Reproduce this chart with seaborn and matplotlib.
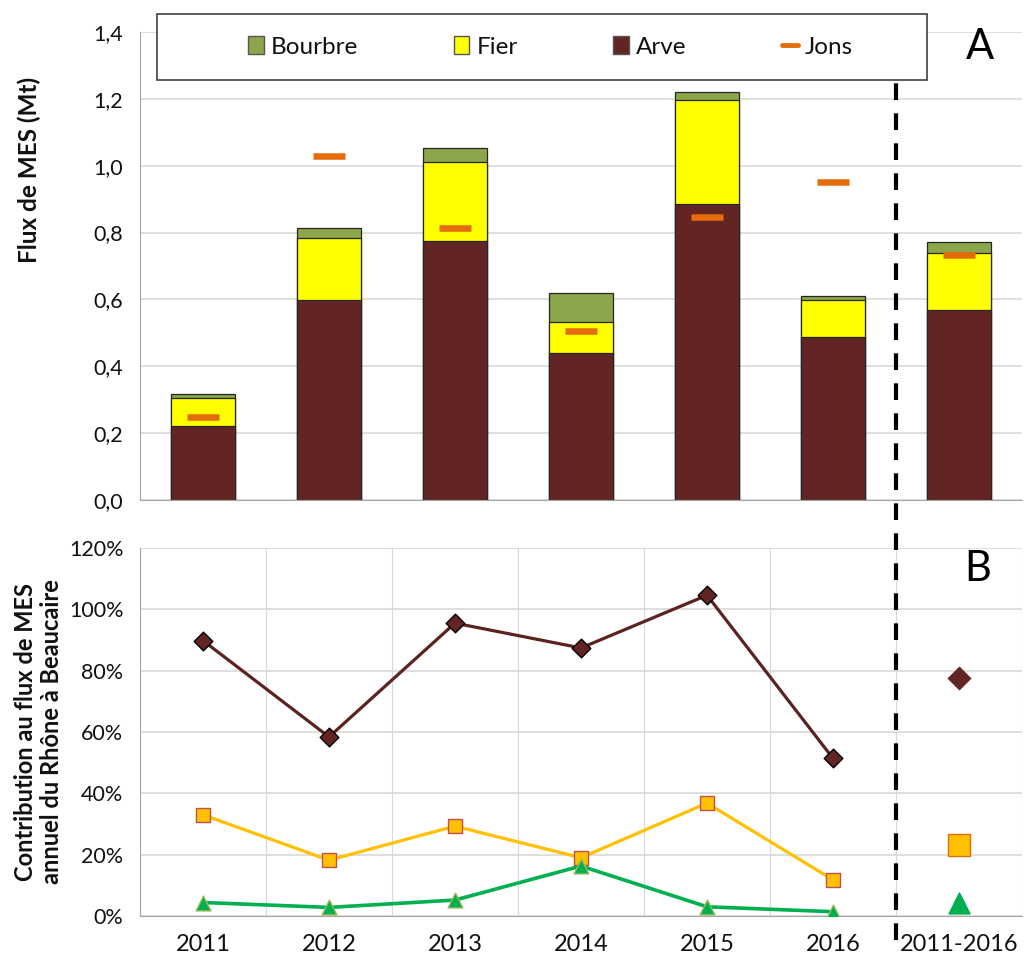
import numpy as np
import matplotlib
matplotlib.use("Agg")
import matplotlib.pyplot as plt
from matplotlib.lines import Line2D
from matplotlib.patches import Patch, Rectangle
from matplotlib.ticker import FuncFormatter
import seaborn as sns

# Data
categories = ["2011", "2012", "2013", "2014", "2015", "2016", "2011-2016"]
arve = [0.222, 0.597, 0.775, 0.441, 0.886, 0.487, 0.567]
fier = [0.082, 0.188, 0.235, 0.092, 0.310, 0.111, 0.171]
bourbre = [0.012, 0.030, 0.042, 0.085, 0.026, 0.012, 0.033]
jons = [0.248, 1.029, 0.814, 0.506, 0.846, 0.950, 0.732]

# Contribution to annual flux at Beaucaire (%)
arve_pct = [89.8, 58.4, 95.5, 87.4, 104.6, 51.4, 77.6]
fier_pct = [33.0, 18.2, 29.3, 19.0, 36.8, 11.8, 23.3]
bourbre_pct = [4.4, 2.8, 5.2, 16.3, 3.0, 1.4, 4.4]

c_arve = "#632523"
c_fier = "#FFFF00"
c_bourbre = "#8BA64B"
c_jons = "#E46C0A"
grid_c = "#D9D9D9"
spine_c = "#A6A6A6"
text_c = "#111111"

sns.set_style("white")
plt.rcParams["font.family"] = ["Lato", "DejaVu Sans"]

W, H = 1025, 963
fig = plt.figure(figsize=(W / 100, H / 100), dpi=100)
ax_top = fig.add_axes([140 / W, 1 - 500 / H, 882 / W, 468 / H])
ax_bot = fig.add_axes([140 / W, 1 - 916 / H, 882 / W, 368 / H])

# ---- Panel A: stacked bars ----
arve_a = np.array(arve)
fier_top = arve_a + np.array(fier)
total = fier_top + np.array(bourbre)
bar_kw = dict(width=0.51, saturation=1, edgecolor="#262626", linewidth=0.9, ax=ax_top)
sns.barplot(x=categories, y=total, color=c_bourbre, **bar_kw)
sns.barplot(x=categories, y=fier_top, color=c_fier, **bar_kw)
sns.barplot(x=categories, y=arve_a, color=c_arve, **bar_kw)
sns.scatterplot(x=categories, y=jons, marker="_", s=560, linewidth=4.7,
                color=c_jons, edgecolor=c_jons, ax=ax_top, zorder=5)

ax_top.set_xlim(-0.5, len(categories) - 0.5)
ax_top.set_ylim(0, 1.4)
ax_top.set_yticks(np.arange(0, 1.41, 0.2))
ax_top.yaxis.set_major_formatter(FuncFormatter(lambda v, p: f"{v:.1f}".replace(".", ",")))
ax_top.tick_params(axis="x", length=0, labelbottom=False)
ax_top.tick_params(axis="y", length=7, width=1, color=spine_c, labelsize=15.5,
                   labelcolor=text_c, pad=5)
ax_top.grid(axis="y", color=grid_c, linewidth=1.2)
ax_top.set_axisbelow(True)
ax_top.set_xlabel("")
ax_top.set_ylabel("Flux de MES (Mt)", fontsize=17.5, fontweight="bold", color=text_c)
ax_top.yaxis.set_label_coords(-0.112, 0.705)
for s in ["top", "right"]:
    ax_top.spines[s].set_visible(False)
for s in ["left", "bottom"]:
    ax_top.spines[s].set_color(spine_c)

# ---- Panel B: contributions ----
xpos = np.arange(len(categories))
n = len(categories) - 1

# lines over the yearly values
sns.lineplot(x=xpos[:n], y=arve_pct[:n], color="#5A2320", linewidth=2.3, ax=ax_bot, zorder=3)
sns.lineplot(x=xpos[:n], y=fier_pct[:n], color="#FFC000", linewidth=2.3, ax=ax_bot, zorder=3)
sns.lineplot(x=xpos[:n], y=bourbre_pct[:n], color="#00B050", linewidth=2.6, ax=ax_bot, zorder=3)

# yearly markers
sns.scatterplot(x=xpos[:n], y=arve_pct[:n], marker="D", s=90, color=c_arve,
                edgecolor="black", linewidth=1, ax=ax_bot, zorder=4)
sns.scatterplot(x=xpos[:n], y=fier_pct[:n], marker="s", s=115, color="#FFC000",
                edgecolor="#C0504D", linewidth=1, ax=ax_bot, zorder=4)
sns.scatterplot(x=xpos[:n], y=bourbre_pct[:n], marker="^", s=115, color="#00B050",
                edgecolor="#9BBB59", linewidth=1, ax=ax_bot, zorder=4)

# 2011-2016 average markers
sns.scatterplot(x=xpos[n:], y=arve_pct[n:], marker="D", s=130, color=c_arve,
                edgecolor=c_arve, ax=ax_bot, zorder=4)
sns.scatterplot(x=xpos[n:], y=fier_pct[n:], marker="s", s=250, color="#FFC000",
                edgecolor="#E46C0A", linewidth=1, ax=ax_bot, zorder=4)
sns.scatterplot(x=xpos[n:], y=bourbre_pct[n:], marker="^", s=220, color="#00B050",
                edgecolor="#00B050", ax=ax_bot, zorder=4)

ax_bot.set_xlim(-0.5, len(categories) - 0.5)
ax_bot.set_ylim(0, 120)
ax_bot.set_yticks(np.arange(0, 121, 20))
ax_bot.yaxis.set_major_formatter(FuncFormatter(lambda v, p: f"{v:.0f}%"))
ax_bot.set_xticks(xpos)
ax_bot.set_xticklabels(categories)
ax_bot.set_xticks(np.arange(-0.5, len(categories), 1), minor=True)
ax_bot.tick_params(axis="x", which="major", length=0, labelsize=17,
                   labelcolor=text_c, pad=13)
ax_bot.tick_params(axis="x", which="minor", length=8, width=1, color=spine_c)
ax_bot.tick_params(axis="y", length=7, width=1, color=spine_c, labelsize=15.5,
                   labelcolor=text_c, pad=5)
ax_bot.grid(axis="y", which="major", color=grid_c, linewidth=1.2)
ax_bot.grid(axis="x", which="minor", color=grid_c, linewidth=0.8)
ax_bot.set_axisbelow(True)
ax_bot.set_ylabel("Contribution au flux de MES\nannuel du Rhône à Beaucaire",
                  fontsize=17, fontweight="bold", color=text_c, linespacing=1.15)
ax_bot.yaxis.set_label_coords(-0.087, 0.5)
for s in ["top", "right"]:
    ax_bot.spines[s].set_visible(False)
for s in ["left", "bottom"]:
    ax_bot.spines[s].set_color(spine_c)

# ---- legend box ----
fig.patches.append(Rectangle((157 / W, 1 - 80 / H), 770 / W, 66 / H,
                             transform=fig.transFigure, facecolor="white",
                             edgecolor="#404040", linewidth=1.2, zorder=4))
handles = [
    Patch(facecolor=c_bourbre, edgecolor="#555555", label="Bourbre"),
    Patch(facecolor=c_fier, edgecolor="#555555", label="Fier"),
    Patch(facecolor=c_arve, edgecolor="#555555", label="Arve"),
    Line2D([0], [0], color=c_jons, linewidth=3.5, label="Jons"),
]
leg = fig.legend(handles=handles, ncol=4, mode="expand", frameon=False,
                 loc="center", bbox_to_anchor=(248 / W, 1 - 80 / H, 605 / W, 66 / H),
                 fontsize=17.5, handlelength=0.65, handleheight=0.7, handletextpad=0.3,
                 borderaxespad=0, borderpad=0)
leg.set_zorder(5)
for t in leg.get_texts():
    t.set_color(text_c)

# ---- separator dashed line between years and average ----
x_sep = fig.transFigure.inverted().transform(ax_bot.transData.transform((n - 0.5, 0)))[0]
fig.add_artist(Line2D([x_sep, x_sep], [1 - 940 / H, 1 - 83 / H], transform=fig.transFigure,
                      color="black", linewidth=3, dashes=(4, 3.2), zorder=6))

fig.text(980 / W, 1 - 47 / H, "A", fontsize=30, ha="center", va="center", color="black")
fig.text(978 / W, 1 - 569 / H, "B", fontsize=30, ha="center", va="center", color="black")

fig.savefig("out.png", dpi=100)
